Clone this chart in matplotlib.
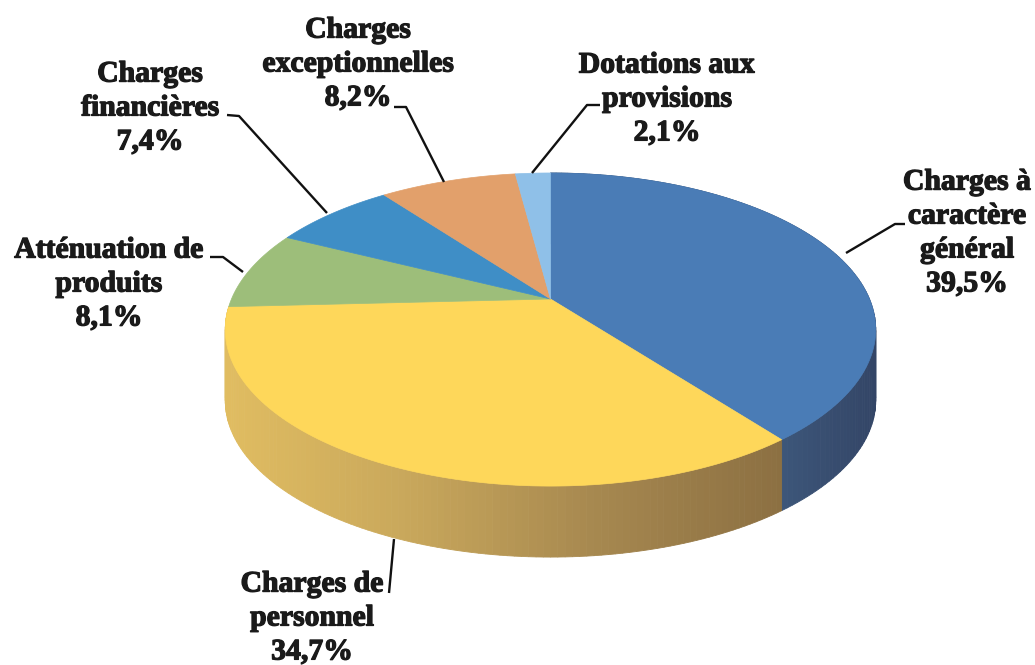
import matplotlib
matplotlib.use('Agg')
import matplotlib.pyplot as plt
import matplotlib.patheffects as pe
import numpy as np

labels = ['Charges à\ncaractère\ngénéral\n39,5%', 'Charges de\npersonnel\n34,7%',
          'Atténuation de\nproduits\n8,1%', 'Charges\nfinancières\n7,4%',
          'Charges\nexceptionnelles\n8,2%', 'Dotations aux\nprovisions\n2,1%']
values = [39.5, 34.7, 8.1, 7.4, 8.2, 2.1]
colors = ['#4a7cb6', '#fed75a', '#9dbe7a', '#3f8ec6', '#e2a06b', '#8fc0e8']

# label centres and leader lines, in pixels
label_pos = [(967, 233), (312, 618), (109, 284), (150, 108), (358, 64), (667, 99)]
leaders = [[(905, 224), (895, 224), (846, 253)],
           [(394, 539), (389, 593)],
           [(210, 257), (223, 257), (243, 272)],
           [(227, 115), (239, 116), (327, 213)],
           [(394, 107), (406, 107), (444, 182)],
           [(600, 105), (587, 105), (532, 173)]]

# side wall shades, left to right along the rim
wall_x = [225, 400, 600, 778, 877]
wall_rgb = {0: [(0.24, 0.34, 0.48), (0.24, 0.34, 0.48), (0.24, 0.34, 0.48), (0.24, 0.34, 0.48), (0.20, 0.27, 0.40)],
            1: [(0.88, 0.74, 0.38), (0.79, 0.66, 0.36), (0.65, 0.53, 0.31), (0.55, 0.44, 0.26), (0.55, 0.44, 0.26)]}

# pie geometry (perspective view of a circle)
cx, cy = 550.5, 299
width, height, q = 319, 150.6, 0.195
depth = 71


def project(a):
    u, v = np.sin(a), np.cos(a)
    d = 1 + q * v
    return cx + width * u / d, cy - height * v / d


fig = plt.figure(figsize=(10.35, 6.65), dpi=100)
ax = fig.add_axes([0, 0, 1, 1])
ax.set_xlim(0, 1035)
ax.set_ylim(665, 0)
ax.axis('off')

edges = np.radians(np.concatenate([[0], np.cumsum(values)]) * 3.6)

# side wall first, the top hides what is at the back
for i in [0, 1]:
    steps = np.linspace(edges[i], edges[i + 1], 120)
    for a0, a1 in zip(steps[:-1], steps[1:]):
        x, y = project(np.array([a0, a1]))
        rgb = [np.interp(x.mean(), wall_x, [c[k] for c in wall_rgb[i]]) for k in range(3)]
        ax.fill([x[0], x[1], x[1], x[0]], [y[0], y[1], y[1] + depth, y[0] + depth],
                color=rgb, lw=0.6, zorder=1)

# top of the pie
for i, col in enumerate(colors):
    a = np.linspace(edges[i], edges[i + 1], 100)
    x, y = project(a)
    ax.fill(np.r_[cx, x], np.r_[cy, y], color=col, lw=0.5, zorder=2)

for pts in leaders:
    xs, ys = zip(*pts)
    ax.plot(xs, ys, color='#111111', lw=1.7, zorder=3, solid_capstyle='butt')

for text, (x, y) in zip(labels, label_pos):
    ax.text(x, y, text, ha='center', va='center', multialignment='center',
            family='Liberation Serif', weight='bold', size=21.4, color='#1a1a1a',
            linespacing=1.33, zorder=4,
            path_effects=[pe.withStroke(linewidth=0.9, foreground='#1a1a1a')])

fig.savefig('out.png', dpi=100, facecolor='white')
